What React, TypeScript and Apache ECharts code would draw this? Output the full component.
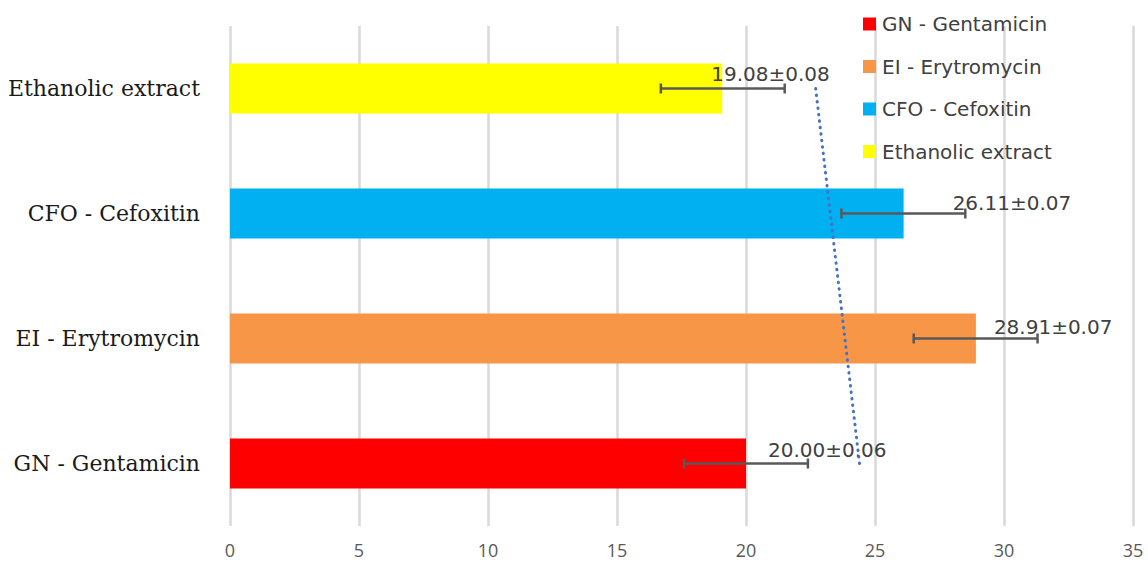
import React, { useEffect, useRef } from "react";
import * as echarts from "echarts";

const categories = ["GN - Gentamicin", "EI - Erytromycin", "CFO - Cefoxitin", "Ethanolic extract"];
const means = [20.0, 28.91, 26.11, 19.08];
const sds = [0.06, 0.07, 0.07, 0.08];
const colors = ["#FF0000", "#F79646", "#00B0F0", "#FFFF00"];
const errLow = [17.6, 26.5, 23.7, 16.7];
const errHigh = [22.4, 31.3, 28.5, 21.5];
const labelOffsets = [[17, -14], [13, -12], [44, -11], [-16, -15]];
const trendX = [24.4, 22.7];
const trendCat = [0, 3];
const xTicks = [0, 35, 5];

export default function App() {
  const ref = useRef<HTMLDivElement>(null);
  useEffect(() => {
    const chart = echarts.init(ref.current!, null, { renderer: "svg" });
    const sansFont = "'DejaVu Sans', 'Noto Sans', sans-serif";
    const barSeries = categories.map((name, i) => ({
      name,
      type: "bar",
      stack: "total",
      barWidth: "40%",
      itemStyle: { color: colors[i] },
      z: 2,
      data: categories.map((_, j) =>
        j === i
          ? {
              value: means[i],
              label: {
                show: true,
                position: "right",
                offset: labelOffsets[i],
                formatter: `${means[i].toFixed(2)}±${sds[i].toFixed(2)}`,
                fontFamily: sansFont,
                fontSize: 20,
                color: "#404040",
              },
            }
          : "-"
      ),
    }));
    const errData = categories.map((_, i) => [errLow[i], errHigh[i], i]);
    const option: any = {
      animation: false,
      backgroundColor: "#ffffff",
      grid: { left: 230, right: 15, top: 26, bottom: 37, containLabel: false },
      legend: {
        orient: "vertical",
        left: 858,
        top: 9,
        itemWidth: 13,
        itemHeight: 13,
        itemGap: 22.5,
        icon: "rect",
        data: categories,
        textStyle: { fontFamily: sansFont, fontSize: 20, color: "#404040", padding: [0, 0, 0, 1] },
      },
      xAxis: {
        type: "value",
        min: xTicks[0],
        max: xTicks[1],
        interval: xTicks[2],
        axisLine: { show: false },
        axisTick: { show: false },
        splitLine: { show: true, lineStyle: { color: "#d9d9d9", width: 2.5 } },
        axisLabel: {
          margin: 15,
          fontSize: 18,
          color: "#595959",
          fontFamily: "'Open Sans', 'Noto Sans', sans-serif",
        },
      },
      yAxis: {
        type: "category",
        data: categories,
        axisLine: { show: false },
        axisTick: { show: false },
        axisLabel: {
          margin: 30,
          fontSize: 22,
          color: "#1a1a1a",
          fontFamily: "'DejaVu Serif', 'Liberation Serif', serif",
        },
      },
      series: [
        ...barSeries,
        {
          type: "custom",
          name: "err",
          z: 5,
          data: errData,
          encode: { x: [0, 1], y: 2 },
          renderItem: (params: any, api: any) => {
            const lo = api.coord([api.value(0), api.value(2)]);
            const hi = api.coord([api.value(1), api.value(2)]);
            const h = 5;
            const style = { stroke: "#595959", lineWidth: 2.5 };
            return {
              type: "group",
              children: [
                { type: "line", shape: { x1: lo[0], y1: lo[1], x2: hi[0], y2: hi[1] }, style },
                { type: "line", shape: { x1: lo[0], y1: lo[1] - h, x2: lo[0], y2: lo[1] + h }, style },
                { type: "line", shape: { x1: hi[0], y1: hi[1] - h, x2: hi[0], y2: hi[1] + h }, style },
              ],
            };
          },
        },
        {
          type: "line",
          name: "trend",
          z: 6,
          symbol: "none",
          data: trendX.map((x, i) => [x, trendCat[i]]),
          lineStyle: { color: "#4472C4", width: 3, type: [0.5, 6], cap: "round" },
        },
      ],
    };
    chart.setOption(option);
    return () => chart.dispose();
  }, []);
  return (
    <div
      ref={ref}
      style={{ position: "absolute", left: 0, top: 0, width: 1148, height: 563, background: "#fff" }}
    />
  );
}
